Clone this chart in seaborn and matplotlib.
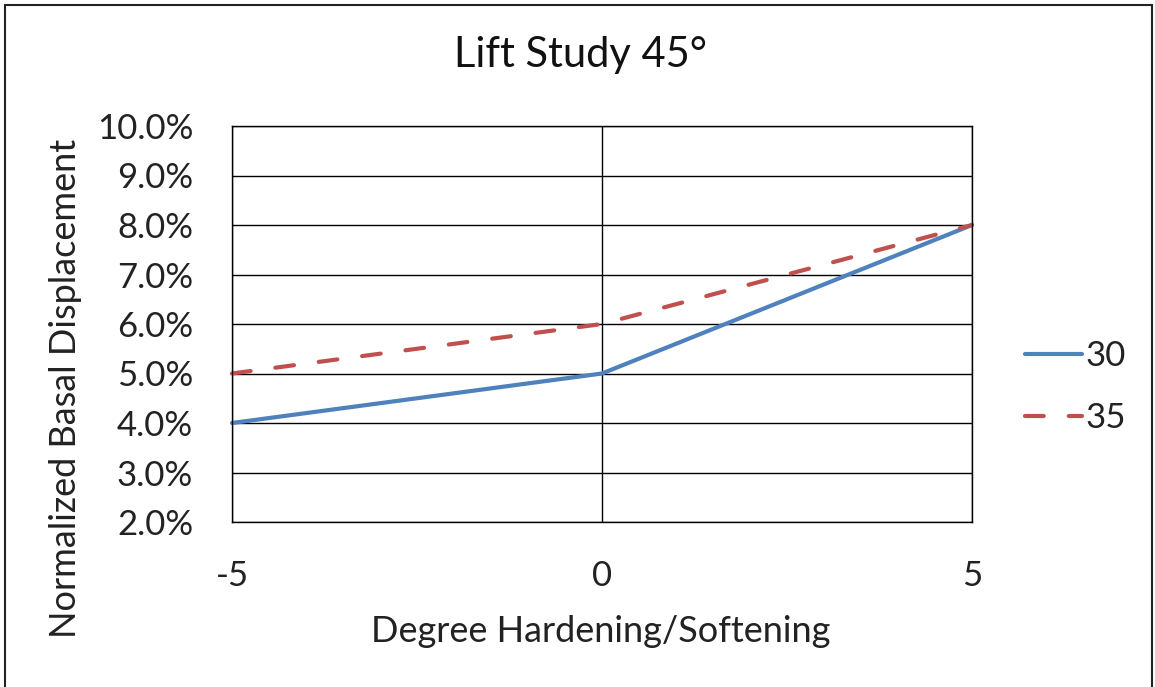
import matplotlib
matplotlib.use("Agg")
import matplotlib.pyplot as plt
import seaborn as sns
import pandas as pd
from matplotlib.patches import Rectangle
from matplotlib.lines import Line2D
from matplotlib.ticker import FuncFormatter, MultipleLocator

x_vals = [-5, 0, 5]
series_30 = [0.04, 0.05, 0.08]
series_35 = [0.05, 0.06, 0.08]
series_names = ["30", "35"]
colors = ["#4F81BD", "#C0504D"]

df = pd.DataFrame({
    "x": x_vals * 2,
    "y": series_30 + series_35,
    "series": [series_names[0]] * 3 + [series_names[1]] * 3,
})

sns.set_theme(style="white")
plt.rcParams['font.family'] = ['Lato', 'DejaVu Sans']
plt.rcParams['axes.unicode_minus'] = False

fig = plt.figure(figsize=(11.55, 6.87), dpi=100)
ax = fig.add_axes([232 / 1155, 1 - 522 / 687, (972 - 232) / 1155, (522 - 126) / 687])

sns.lineplot(data=df, x="x", y="y", hue="series", style="series",
             palette=colors, dashes={"30": "", "35": (4.5, 6.0)},
             linewidth=3, ax=ax, legend=False)
for ln in ax.get_lines():
    ln.set_dash_capstyle("round")
    ln.set_solid_capstyle("round")
    ln.set_clip_on(False)

ax.set_xlim(-5, 5)
ax.set_ylim(0.02, 0.10)
ax.xaxis.set_major_locator(MultipleLocator(5))
ax.yaxis.set_major_locator(MultipleLocator(0.01))
ax.yaxis.set_major_formatter(FuncFormatter(lambda v, p: f"{v*100:.1f}%"))
ax.xaxis.set_major_formatter(FuncFormatter(lambda v, p: f"{int(round(v))}"))
ax.grid(True, color="black", linewidth=1.0)
ax.set_axisbelow(True)
for s in ax.spines.values():
    s.set_color("black")
    s.set_linewidth(1.0)
ax.tick_params(axis="both", labelsize=25, colors="#222222", length=0)
ax.tick_params(axis="y", pad=28)
ax.tick_params(axis="x", pad=27)
ax.set_xlabel("")
ax.set_ylabel("")

fig.text(580 / 1155, 1 - 55 / 687, "Lift Study 45°", ha="center", va="center",
         fontsize=30, color="#111111")
fig.text(601 / 1155, 1 - 632 / 687, "Degree Hardening/Softening", ha="center",
         va="center", fontsize=26, color="#222222")
fig.text(66 / 1155, 1 - 388 / 687, "Normalized Basal Displacement", ha="center",
         va="center", rotation=90, fontsize=26, color="#222222")

handles = [
    Line2D([], [], color=colors[0], linewidth=3, solid_capstyle="round"),
    Line2D([], [], color=colors[1], linewidth=3, linestyle=(0, (4.5, 6.0)),
           dash_capstyle="round"),
]
leg = fig.legend(handles, series_names, loc="center left",
                 bbox_to_anchor=(1025 / 1155, 1 - 387 / 687), frameon=False,
                 fontsize=25, handlelength=1.65, handletextpad=0.1,
                 labelspacing=0.87, borderpad=0, borderaxespad=0)
for t in leg.get_texts():
    t.set_color("#222222")

fig.patches.append(Rectangle((5 / 1155, -0.01), 1147 / 1155, 1 - 5 / 687 + 0.01,
                             transform=fig.transFigure, fill=False,
                             edgecolor="#222222", linewidth=1.5))

fig.savefig("out.png", dpi=100)
